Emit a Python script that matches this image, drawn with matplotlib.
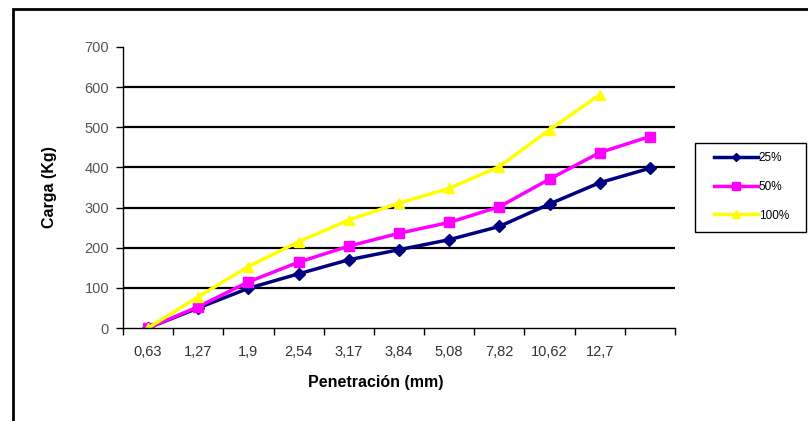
import matplotlib
matplotlib.use('Agg')
import matplotlib.pyplot as plt
from matplotlib.patches import Rectangle

plt.rcParams['font.family'] = ['Liberation Sans', 'DejaVu Sans']

# datos
penetracion = ['0,63', '1,27', '1,9', '2,54', '3,17', '3,84', '5,08', '7,82', '10,62', '12,7', '']
carga_25  = [0, 50, 99, 135, 170, 195, 220, 253, 309, 362, 398]
carga_50  = [0, 53, 115, 164, 204, 236, 263, 302, 371, 437, 477]
carga_100 = [0, 78, 153, 215, 269, 311, 348, 402, 494, 581]

W, H = 808, 421
fig = plt.figure(figsize=(W / 100, H / 100), dpi=100)
fig.patch.set_facecolor('white')

# marco exterior (solo se ven borde izquierdo y superior)
fig.patches.append(Rectangle((13 / W, -0.1), 1.2, 1 - 9 / H + 0.1,
                             transform=fig.transFigure, fill=False,
                             edgecolor='black', lw=2))

ax = fig.add_axes([123 / W, 1 - 328 / H, (675 - 123) / W, (328 - 47) / H])

x = list(range(len(penetracion)))
ax.plot(x, carga_25, color='#000080', marker='D', ms=6, lw=2.5, label='25%')
ax.plot(x, carga_50, color='#FF00FF', marker='s', ms=7, lw=2.5, label='50%')
ax.plot(x[:len(carga_100)], carga_100, color='#FFFF00', marker='^', ms=7,
        lw=2.5, label='100%')

ax.set_ylim(0, 700)
ax.set_xlim(-0.5, len(penetracion) - 0.5)
ax.set_yticks(range(0, 701, 100))
for yv in range(100, 601, 100):
    ax.axhline(yv, color='black', lw=1.6, zorder=0)

ax.set_xticks(x)
ax.set_xticklabels(penetracion, fontsize=10.5, color='#333333')
ax.tick_params(axis='x', length=0, pad=12)
ax.set_xticks([i - 0.5 for i in range(len(penetracion) + 1)], minor=True)
ax.tick_params(axis='x', which='minor', length=5, width=1, direction='out')
ax.tick_params(axis='y', length=5, width=1, direction='out', labelsize=10.5,
               labelcolor='#555555', pad=5)

for s in ['top', 'right']:
    ax.spines[s].set_visible(False)
for s in ['left', 'bottom']:
    ax.spines[s].set_linewidth(1)

ax.set_ylabel('Carga (Kg)', fontsize=11.5, fontweight='bold')
ax.yaxis.set_label_coords((57 - 123) / (675 - 123), 0.5)
ax.set_xlabel('Penetración (mm)', fontsize=11.5, fontweight='bold', va='center')
ax.xaxis.set_label_coords((376 - 123) / (675 - 123), -(383 - 328) / (328 - 47))

# leyenda: caja dibujada aparte
fig.patches.append(Rectangle((695 / W, 1 - 232 / H), (806 - 695) / W, (232 - 143) / H,
                             transform=fig.transFigure, fill=False,
                             edgecolor='black', lw=1))
leg = fig.legend(*ax.get_legend_handles_labels(), loc='center left',
                 bbox_to_anchor=(714 / W, 1 - 187 / H), fontsize=8.5, frameon=False,
                 handlelength=3.7, labelspacing=1.4, borderpad=0, borderaxespad=0,
                 markerscale=0.75, handletextpad=0.1)

plt.savefig('out.png', dpi=100, facecolor='white')
plt.close()
